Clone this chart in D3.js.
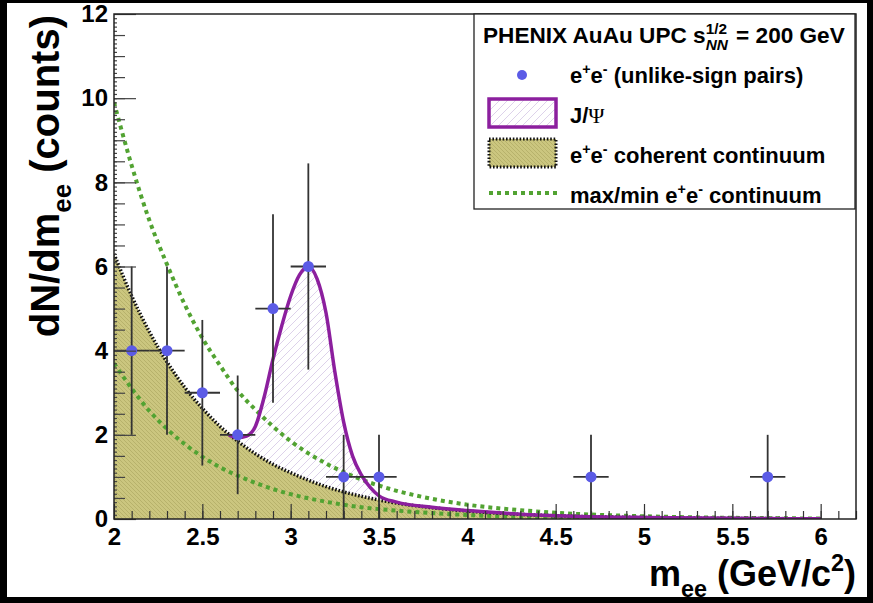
<!DOCTYPE html>
<html>
<head>
<meta charset="utf-8">
<script src="https://cdn.jsdelivr.net/npm/d3@7"></script>
<style>
body { margin: 0; background: #000; }
svg { display: block; font-family: "Liberation Sans", Arial, sans-serif; font-weight: bold; }
text { white-space: pre; }
</style>
</head>
<body>
<div id="chart"></div>
<script>
// measured e+e- pairs: bin centre, counts, stat. error
var massBins = [2.1, 2.3, 2.5, 2.7, 2.9, 3.1, 3.3, 3.5, 4.7, 5.7];
var counts   = [4, 4, 3, 2, 5, 6, 1, 1, 1, 1];
var countErr = [2, 2, 1.73, 1.41, 2.24, 2.45, 1, 1, 1, 1];
var binHalf  = 0.1;

// curves
var contMass  = [2.0, 2.1, 2.2, 2.3, 2.4, 2.5, 2.6, 2.7, 2.8, 2.9, 3.0, 3.2, 3.4, 3.6, 3.8, 4.0, 4.3, 4.6, 5.0, 5.5, 6.0];
var contYield = [6.3, 5.3, 4.45, 3.73, 3.13, 2.63, 2.2, 1.85, 1.55, 1.3, 1.1, 0.77, 0.54, 0.38, 0.27, 0.19, 0.11, 0.065, 0.035, 0.015, 0.006];
var maxYield  = [9.9, 8.4, 7.1, 6.05, 5.1, 4.3, 3.65, 3.05, 2.6, 2.2, 1.85, 1.32, 0.94, 0.67, 0.48, 0.34, 0.21, 0.125, 0.065, 0.028, 0.012];
var minYield  = [3.7, 3.1, 2.57, 2.14, 1.78, 1.48, 1.23, 1.03, 0.86, 0.71, 0.59, 0.41, 0.28, 0.2, 0.14, 0.095, 0.055, 0.03, 0.015, 0.006, 0.002];

var jpsiMass  = [2.65, 2.7, 2.75, 2.8, 2.85, 2.9, 2.95, 3.0, 3.05, 3.1, 3.15, 3.2, 3.25, 3.3, 3.35, 3.4, 3.45, 3.5, 3.6, 3.8, 4.0, 4.3, 4.6, 5.0, 5.5, 6.0];
var jpsiYield = [2.0, 1.93, 1.97, 2.2, 2.9, 3.8, 4.6, 5.3, 5.8, 6.0, 5.7, 4.9, 3.5, 2.3, 1.5, 1.05, 0.75, 0.55, 0.4, 0.28, 0.2, 0.115, 0.068, 0.036, 0.015, 0.006];

var xTicks = [2, 2.5, 3, 3.5, 4, 4.5, 5, 5.5, 6];
var yTicks = [0, 2, 4, 6, 8, 10, 12];

var width = 873, height = 603;
var frame = {left: 114, right: 856, top: 14, bottom: 519};

var svg = d3.select("#chart").append("svg")
	.attr("width", width)
	.attr("height", height);

svg.append("rect").attr("x", 7).attr("y", 3).attr("width", 860).attr("height", 594).attr("fill", "#fff");

var x = d3.scaleLinear().domain([2, 6.2]).range([frame.left, frame.right]);
var y = d3.scaleLinear().domain([0, 12]).range([frame.bottom, frame.top]);

var defs = svg.append("defs");

var hatch = defs.append("pattern")
	.attr("id", "jpsiHatch")
	.attr("patternUnits", "userSpaceOnUse")
	.attr("width", 8).attr("height", 8);
hatch.append("path").attr("d", "M-2,2 L2,-2 M0,8 L8,0 M6,10 L10,6")
	.attr("stroke", "#ddd2ea").attr("stroke-width", 1);

var olive = defs.append("pattern")
	.attr("id", "contFill")
	.attr("patternUnits", "userSpaceOnUse")
	.attr("width", 4).attr("height", 4);
olive.append("rect").attr("width", 4).attr("height", 4).attr("fill", "#cbc67f");
olive.append("path").attr("d", "M-1,-1 L5,5 M-1,3 L1,5 M3,-1 L5,1")
	.attr("stroke", "#b3ad66").attr("stroke-width", 0.8);

defs.append("clipPath").attr("id", "plotClip")
	.append("rect")
	.attr("x", frame.left).attr("y", frame.top)
	.attr("width", frame.right - frame.left).attr("height", frame.bottom - frame.top);

var plot = svg.append("g").attr("clip-path", "url(#plotClip)");

var jpsiPts = jpsiMass.map(function(m, i) { return [m, jpsiYield[i]]; });
var contPts = contMass.map(function(m, i) { return [m, contYield[i]]; });
var maxPts  = contMass.map(function(m, i) { return [m, maxYield[i]]; });
var minPts  = contMass.map(function(m, i) { return [m, minYield[i]]; });

var area = d3.area()
	.x(function(d) { return x(d[0]); })
	.y0(y(0))
	.y1(function(d) { return y(d[1]); })
	.curve(d3.curveMonotoneX);

var line = d3.line()
	.x(function(d) { return x(d[0]); })
	.y(function(d) { return y(d[1]); })
	.curve(d3.curveMonotoneX);

plot.append("path").attr("d", area(jpsiPts)).attr("fill", "url(#jpsiHatch)");
plot.append("path").attr("d", area(contPts)).attr("fill", "url(#contFill)");

// axes (ticks inside the frame)
var xAxis = svg.append("g")
	.attr("transform", "translate(0," + frame.bottom + ")")
	.call(d3.axisBottom(x).tickValues(d3.range(2.1, 6.21, 0.1)).tickSize(-8).tickFormat(""));
xAxis.append("g").call(d3.axisBottom(x).tickValues(xTicks).tickSize(-15).tickPadding(9).tickFormat(d3.format("")));
xAxis.selectAll(".domain").remove();
xAxis.selectAll("line").attr("stroke", "#333").attr("stroke-width", 1.2);
xAxis.selectAll("text").attr("fill", "#000").style("font-size", "24px").style("font-family", "Liberation Sans, Arial, sans-serif").style("font-weight", "bold");

var yAxis = svg.append("g")
	.attr("transform", "translate(" + frame.left + ",0)")
	.call(d3.axisLeft(y).tickValues(d3.range(0.1, 12, 0.1)).tickSize(-3).tickFormat(""));
yAxis.append("g").call(d3.axisLeft(y).tickValues(d3.range(0.5, 12, 0.5)).tickSize(-11).tickFormat(""));
yAxis.append("g").call(d3.axisLeft(y).tickValues(yTicks).tickSize(-22).tickPadding(6).tickFormat(d3.format("")));
yAxis.selectAll(".domain").remove();
yAxis.selectAll("line").attr("stroke", "#444").attr("stroke-width", 1.2);
yAxis.selectAll("text").attr("fill", "#000").style("font-size", "24px").style("font-family", "Liberation Sans, Arial, sans-serif").style("font-weight", "bold");

// curves
plot.append("path").attr("d", line(maxPts)).attr("fill", "none")
	.attr("stroke", "#52a332").attr("stroke-width", 4).attr("stroke-dasharray", "4,4");
plot.append("path").attr("d", line(minPts)).attr("fill", "none")
	.attr("stroke", "#52a332").attr("stroke-width", 4).attr("stroke-dasharray", "4,4");
plot.append("path").attr("d", line(contPts)).attr("fill", "none")
	.attr("stroke", "#111").attr("stroke-width", 3.5).attr("stroke-dasharray", "1.6,1.8");
plot.append("path").attr("d", line(jpsiPts)).attr("fill", "none")
	.attr("stroke", "#8c1f9e").attr("stroke-width", 3.5);

// data with error bars
var pts = massBins.map(function(m, i) { return {m: m, n: counts[i], e: countErr[i]}; });
var bars = plot.append("g").attr("stroke", "#333").attr("stroke-width", 1.8);
bars.selectAll(".ey").data(pts).enter().append("line")
	.attr("x1", function(d) { return x(d.m); }).attr("x2", function(d) { return x(d.m); })
	.attr("y1", function(d) { return y(d.n - d.e); }).attr("y2", function(d) { return y(d.n + d.e); });
bars.selectAll(".ex").data(pts).enter().append("line")
	.attr("x1", function(d) { return x(d.m - binHalf); }).attr("x2", function(d) { return x(d.m + binHalf); })
	.attr("y1", function(d) { return y(d.n); }).attr("y2", function(d) { return y(d.n); });
plot.selectAll(".pt").data(pts).enter().append("circle")
	.attr("cx", function(d) { return x(d.m); })
	.attr("cy", function(d) { return y(d.n); })
	.attr("r", 5.5)
	.attr("fill", "#5b5be6");

svg.append("rect")
	.attr("x", frame.left).attr("y", frame.top)
	.attr("width", frame.right - frame.left).attr("height", frame.bottom - frame.top)
	.attr("fill", "none").attr("stroke", "#222").attr("stroke-width", 1.5);

// text with sub/superscripts, returns group and width
function richText(g, size, parts, stackScale) {
	var grp = g.append("g");
	var cx = 0;
	parts.forEach(function(p) {
		if (p.stack) {
			var ss = stackScale || 0.62;
			var a = grp.append("text").attr("x", cx).attr("y", -size * 0.42)
				.style("font-size", size * ss + "px").text(p.stack[0]);
			var b = grp.append("text").attr("x", cx).attr("y", size * 0.3)
				.style("font-size", size * ss + "px").style("font-style", "italic").text(p.stack[1]);
			cx += Math.max(a.node().getComputedTextLength(), b.node().getComputedTextLength()) + 2;
			return;
		}
		var fs = p.pos ? size * 0.65 : size;
		var dy = p.pos == "sup" ? -size * 0.42 : (p.pos == "sub" ? size * 0.3 : 0);
		var t = grp.append("text").attr("x", cx).attr("y", dy)
			.style("font-size", fs + "px").text(p.t);
		if (p.font) t.style("font-family", p.font).style("font-weight", "normal");
		cx += t.node().getComputedTextLength();
	});
	grp.width = cx;
	return grp;
}

// axis titles
var xt = svg.append("g");
var xtText = richText(xt, 36, [{t: "m"}, {t: "ee", pos: "sub"}, {t: " (GeV/c"}, {t: "2", pos: "sup"}, {t: ")"}]);
xt.attr("transform", "translate(" + (frame.right - xtText.width) + ",586)");

var yt = svg.append("g").attr("transform", "translate(59,15) rotate(-90)");
var ytText = richText(yt, 40, [{t: "dN/dm"}, {t: "ee", pos: "sub"}, {t: " (counts)"}]);
ytText.attr("transform", "translate(" + (-ytText.width) + ",0)");

// legend
var legend = svg.append("g");
legend.append("rect").attr("x", 474).attr("y", 14).attr("width", 381).attr("height", 195)
	.attr("fill", "#fff").attr("stroke", "#222").attr("stroke-width", 1.3);

var lt = legend.append("g").attr("transform", "translate(483,43)");
richText(lt, 22.6, [{t: "PHENIX AuAu UPC s"}, {stack: ["1/2", "NN"]}, {t: " = 200 GeV"}], 0.68);

var rowY = [83, 123, 163, 203];
var r1 = legend.append("g").attr("transform", "translate(570," + rowY[0] + ")");
richText(r1, 22, [{t: "e"}, {t: "+", pos: "sup"}, {t: "e"}, {t: "-", pos: "sup"}, {t: " (unlike-sign pairs)"}]);
var r2 = legend.append("g").attr("transform", "translate(570," + rowY[1] + ")");
richText(r2, 22, [{t: "J/"}, {t: "\u03A8", font: "Liberation Serif, DejaVu Serif, serif"}]);
var r3 = legend.append("g").attr("transform", "translate(570," + rowY[2] + ")");
richText(r3, 22, [{t: "e"}, {t: "+", pos: "sup"}, {t: "e"}, {t: "-", pos: "sup"}, {t: " coherent continuum"}]);
var r4 = legend.append("g").attr("transform", "translate(570," + rowY[3] + ")");
richText(r4, 22, [{t: "max/min e"}, {t: "+", pos: "sup"}, {t: "e"}, {t: "-", pos: "sup"}, {t: " continuum"}]);

legend.append("circle").attr("cx", 522).attr("cy", 75).attr("r", 5).attr("fill", "#5b5be6");
legend.append("rect").attr("x", 489).attr("y", 99).attr("width", 67).attr("height", 28)
	.attr("fill", "url(#jpsiHatch)").attr("stroke", "#8c1f9e").attr("stroke-width", 3.5);
legend.append("rect").attr("x", 489).attr("y", 139).attr("width", 67).attr("height", 28)
	.attr("fill", "url(#contFill)").attr("stroke", "#111").attr("stroke-width", 3)
	.attr("stroke-dasharray", "1.6,1.8");
legend.append("line").attr("x1", 489).attr("x2", 557).attr("y1", 193).attr("y2", 193)
	.attr("stroke", "#52a332").attr("stroke-width", 4).attr("stroke-dasharray", "4,4");
</script>
</body>
</html>
